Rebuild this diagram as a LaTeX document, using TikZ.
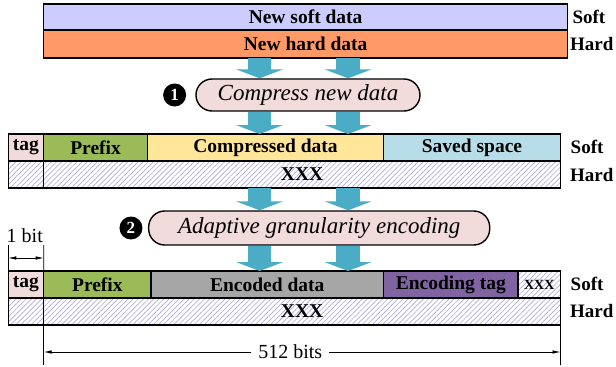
\documentclass[tikz,border=0pt]{standalone}
\usepackage{fontspec}
\setmainfont{Liberation Serif}
\usetikzlibrary{arrows.meta,patterns.meta,calc}

\definecolor{softc}{RGB}{204,204,255}
\definecolor{hardc}{RGB}{255,153,102}
\definecolor{tagc}{RGB}{242,220,219}
\definecolor{prefixc}{RGB}{155,187,89}
\definecolor{compc}{RGB}{255,230,153}
\definecolor{savedc}{RGB}{183,222,232}
\definecolor{encc}{RGB}{166,166,166}
\definecolor{etagc}{RGB}{128,100,162}
\definecolor{arrowc}{RGB}{75,172,198}
\definecolor{hatchc}{RGB}{178,170,222}

\newcommand{\lbl}{\fontsize{19.5}{21}\selectfont\bfseries}

\tikzset{
  cell/.style={draw=black, line width=1.3pt, anchor=north west, inner sep=0pt,
    outer sep=0pt, font=\lbl},
  hatched/.style={cell, preaction={fill=white},
    pattern={Lines[angle=45, distance=3.6pt, line width=0.65pt]},
    pattern color=hatchc},
  oval/.style={draw=black, line width=1.4pt, fill=tagc, rounded corners=16pt,
    inner sep=0pt, font=\fontsize{23}{25}\selectfont\itshape},
  numdot/.style={circle, fill=black, minimum size=23pt, inner sep=0pt,
    text=white, font=\fontsize{17}{17}\selectfont\bfseries},
  rowlbl/.style={anchor=west, inner sep=0pt, font=\fontsize{19}{21}\selectfont\bfseries},
  bigarrow/.style={draw=arrowc, line width=23.5pt, line cap=butt,
    -{Triangle[length=9pt, width=47pt]}},
  dim/.style={line width=0.7pt},
  dimarrow/.style={line width=0.7pt, {Latex[length=8pt,width=3.5pt]}-{Latex[length=8pt,width=3.5pt]}},
  dimtext/.style={inner sep=0pt, font=\fontsize{20}{21}\selectfont}
}

\begin{document}
\begin{tikzpicture}[x=1.18pt, y=-1pt]
\useasboundingbox[fill=white] (0,0) rectangle (522.03,366);

% arrow columns
\coordinate (colA) at (220,0);
\coordinate (colB) at (295,0);

% new data line
\node[cell, fill=softc, minimum width=523.92pt, minimum height=26pt] (soft1) at (37,4) {New soft data};
\node[cell, fill=hardc, minimum width=523.92pt, minimum height=28pt] (hard1) at (37,30) {New hard data};
\node[rowlbl] (s1) at (485,17) {Soft};
\node[rowlbl] (h1) at (483,44) {Hard};

% step 1
\node[oval, minimum width=224pt, minimum height=32pt] (oval1) at (261,95) {Compress new data};
\node[numdot] (n1) at (148,95) {1};

% compressed line
\node[cell, fill=tagc, minimum width=35.4pt, minimum height=27pt] (tag2) at (7,134) {tag};
\node[cell, fill=prefixc, minimum width=103.84pt, minimum height=27pt] (pre2) at (37,134) {Prefix};
\node[cell, fill=compc, minimum width=236pt, minimum height=27pt] (comp2) at (125,134) {Compressed data};
\node[cell, fill=savedc, minimum width=177pt, minimum height=27pt] (saved2) at (325,134) {Saved space};
\node[hatched, minimum width=35.4pt, minimum height=27pt] (htag2) at (7,161) {};
\node[hatched, minimum width=516.84pt, minimum height=27pt] (hx2) at (37,161) {XXX};
\node[rowlbl] (s2) at (483.5,147) {Soft};
\node[rowlbl] (h2) at (483,175) {Hard};

% step 2
\node[oval, minimum width=341pt, minimum height=34pt] (oval2) at (270.5,228) {Adaptive granularity encoding};
\node[numdot] (n2) at (111,228) {2};

% encoded line
\node[cell, fill=tagc, minimum width=35.4pt, minimum height=27pt] (tag3) at (7,271) {tag};
\node[cell, fill=prefixc, minimum width=107.38pt, minimum height=27pt] (pre3) at (37,271) {Prefix};
\node[cell, fill=encc, minimum width=232.46pt, minimum height=27pt] (enc3) at (128,271) {Encoded data};
\node[cell, fill=etagc, minimum width=134.52pt, minimum height=27pt] (etag3) at (325,271) {Encoding tag};
\node[hatched, minimum width=42.48pt, minimum height=27pt, font=\fontsize{14}{15}\selectfont\bfseries] (xs3) at (439,271) {XXX};
\node[hatched, minimum width=35.4pt, minimum height=27pt] (htag3) at (7,298) {};
\node[hatched, minimum width=516.84pt, minimum height=27pt] (hx3) at (37,298) {XXX};
\node[rowlbl] (s3) at (483.5,284) {Soft};
\node[rowlbl] (h3) at (483,311) {Hard};

% flow arrows
\foreach \c in {colA,colB}{
  \draw[bigarrow] (hard1.south -| \c) -- (oval1.north -| \c);
  \draw[bigarrow] (oval1.south -| \c) -- (comp2.north -| \c);
  \draw[bigarrow] (hx2.south -| \c) -- (oval2.north -| \c);
  \draw[bigarrow] (oval2.south -| \c) -- (enc3.north -| \c);
}

% dimension: 1 bit
\coordinate (t0) at (7,245);
\coordinate (t1) at (37,245);
\draw[dim] (t0) -- (tag3.north west);
\draw[dim] (t1) -- (tag3.north east);
\draw[dimarrow] ($(t0)+(0,13)$) -- ($(t1)+(0,13)$);
\node[dimtext] (onebit) at (21,236) {1 bit};

% dimension: 512 bits
\coordinate (b0) at (37,365);
\coordinate (b1) at (475,365);
\draw[dim] (hx3.south west) -- (b0);
\draw[dim] (hx3.south east) -- (b1);
\draw[dimarrow] ($(b0)+(0,-13)$) -- ($(b1)+(0,-13)$);
\node[dimtext, fill=white, inner xsep=7pt] (bits) at (246,352) {512 bits};
\end{tikzpicture}
\end{document}
